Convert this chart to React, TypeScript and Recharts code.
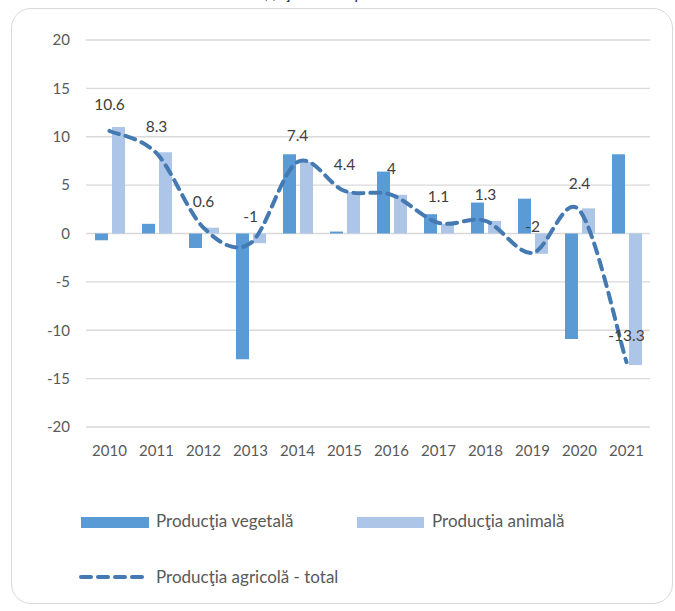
import React from "react";
import {
  ComposedChart,
  Bar,
  Line,
  XAxis,
  YAxis,
  CartesianGrid,
  LabelList,
  Legend,
} from "recharts";

const years = ["2010", "2011", "2012", "2013", "2014", "2015", "2016", "2017", "2018", "2019", "2020", "2021"];
const vegetal = [-0.7, 1.0, -1.5, -13.0, 8.2, 0.2, 6.4, 2.0, 3.2, 3.6, -10.9, 8.2];
const animal = [11.0, 8.4, 0.6, -1.0, 7.4, 4.3, 4.0, 1.0, 1.3, -2.1, 2.6, -13.6];
const total = [10.6, 8.3, 0.6, -1, 7.4, 4.4, 4, 1.1, 1.3, -2, 2.4, -13.3];
const yTicks = [-20, -15, -10, -5, 0, 5, 10, 15, 20];

const seriesNames = {
  vegetal: "Producţia vegetală",
  animal: "Producţia animală",
  total: "Producţia agricolă - total",
};
const titleText = "%, faţă de anul precedent";

const data = years.map((y, i) => ({
  year: y,
  vegetal: vegetal[i],
  animal: animal[i],
  total: total[i],
}));

const FONT = "Lato, 'Liberation Sans', sans-serif";
const C_VEG = "#5b9bd5";
const C_ANI = "#adc6e8";
const C_LINE = "#4479b2";

// Excel-like smoothed line (Catmull-Rom as cubic Bezier)
const excelCurve = (context: any) => {
  let pts: number[][] = [];
  return {
    areaStart() {},
    areaEnd() {},
    lineStart() {
      pts = [];
    },
    point(x: number, y: number) {
      pts.push([+x, +y]);
    },
    lineEnd() {
      if (!pts.length) return;
      context.moveTo(pts[0][0], pts[0][1]);
      for (let i = 0; i < pts.length - 1; i++) {
        const p0 = pts[i - 1] || pts[i];
        const p1 = pts[i];
        const p2 = pts[i + 1];
        const p3 = pts[i + 2] || p2;
        const c1x = p1[0] + (p2[0] - p0[0]) / 6;
        const c1y = p1[1] + (p2[1] - p0[1]) / 6;
        const c2x = p2[0] - (p3[0] - p1[0]) / 6;
        const c2y = p2[1] - (p3[1] - p1[1]) / 6;
        context.bezierCurveTo(c1x, c1y, c2x, c2y, p2[0], p2[1]);
      }
    },
  };
};

const textStyle: React.CSSProperties = {
  fontFamily: FONT,
  fontSize: 17,
  color: "#595959",
  position: "absolute",
  whiteSpace: "nowrap",
  lineHeight: "20px",
};

const renderLegend = () => (
  <div style={{ position: "relative", width: 675, height: 611 }}>
    <div style={{ position: "absolute", left: 81, top: 517, width: 68, height: 11, background: C_VEG }} />
    <div style={{ ...textStyle, left: 156, top: 511 }}>{seriesNames.vegetal}</div>
    <div style={{ position: "absolute", left: 357, top: 517, width: 67, height: 11, background: C_ANI }} />
    <div style={{ ...textStyle, left: 432, top: 511 }}>{seriesNames.animal}</div>
    <svg style={{ position: "absolute", left: 78, top: 570 }} width={74} height={14}>
      <line
        x1={3}
        y1={7}
        x2={71}
        y2={7}
        stroke={C_LINE}
        strokeWidth={4}
        strokeDasharray="10 7"
        strokeLinecap="round"
      />
    </svg>
    <div style={{ ...textStyle, left: 156, top: 567 }}>{seriesNames.total}</div>
  </div>
);

export default function App() {
  return (
    <div style={{ position: "absolute", left: 0, top: 0, width: 675, height: 611, overflow: "hidden", background: "#fff" }}>
      <div
        style={{
          position: "absolute",
          left: 0,
          width: 675,
          top: -17,
          textAlign: "center",
          fontFamily: FONT,
          fontStyle: "italic",
          fontSize: 16,
          color: "#262626",
          lineHeight: "20px",
        }}
      >
        {titleText}
      </div>
      <div
        style={{
          position: "absolute",
          left: 11,
          top: 8,
          width: 660,
          height: 594,
          border: "1.5px solid #d9d9d9",
          borderRadius: 20,
        }}
      />
      <div style={{ position: "absolute", left: 0, top: 0 }}>
        <ComposedChart
          width={675}
          height={611}
          data={data}
          margin={{ top: 40, right: 25, bottom: 154, left: 0 }}
        >
          <CartesianGrid vertical={false} stroke="#d9d9d9" strokeWidth={1.3} />
          <XAxis
            dataKey="year"
            axisLine={false}
            tickLine={false}
            height={30}
            tickMargin={12}
            interval={0}
            tick={{ fill: "#595959", fontSize: 15, fontFamily: FONT }}
          />
          <YAxis
            domain={[-20, 20]}
            ticks={yTicks}
            width={86}
            axisLine={false}
            tickLine={false}
            tickMargin={10}
            interval={0}
            tick={{ fill: "#595959", fontSize: 15, fontFamily: FONT }}
          />
          <Legend
            layout="vertical"
            align="center"
            verticalAlign="middle"
            content={renderLegend}
            wrapperStyle={{ position: "absolute", left: 0, top: 0, width: 675, height: 611 }}
          />
          <Bar dataKey="vegetal" name={seriesNames.vegetal} fill={C_VEG} barSize={13} isAnimationActive={false} />
          <Bar dataKey="animal" name={seriesNames.animal} fill={C_ANI} barSize={13} isAnimationActive={false} />
          <Line
            dataKey="total"
            name={seriesNames.total}
            type={excelCurve as any}
            stroke={C_LINE}
            strokeWidth={4}
            strokeDasharray="10 7"
            strokeLinecap="round"
            dot={false}
            activeDot={false}
            isAnimationActive={false}
          >
            <LabelList
              dataKey="total"
              position="top"
              offset={21}
              style={{ fill: "#404040", fontSize: 15.5, fontFamily: FONT }}
            />
          </Line>
        </ComposedChart>
      </div>
    </div>
  );
}
